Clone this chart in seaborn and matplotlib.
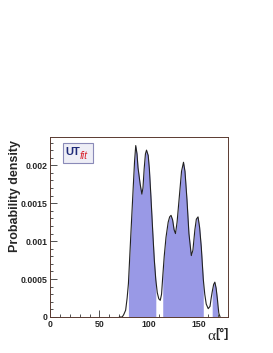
import matplotlib
matplotlib.use('Agg')
import matplotlib.pyplot as plt
import matplotlib.ticker as mticker
from matplotlib.patches import FancyBboxPatch
import numpy as np
import pandas as pd
import seaborn as sns

# alpha [deg] and probability density
alpha = [70, 73, 74.5, 76.5, 78, 79.3, 81.6, 84, 85.5, 86.7, 88, 89, 91.2, 92.9,
         94, 95.2, 96.5, 97.6, 99.3, 100.5, 102, 104, 105.5, 107, 108.5, 110,
         111.5, 112.8, 114, 115.5, 117.3, 119.5, 121, 122.4, 124, 125.5, 126.9,
         128.5, 131, 133, 135, 136.5, 138.5, 140.5, 142.9, 144.5, 146.5, 148,
         149.7, 151.3, 153, 155, 156.5, 158, 160, 161.8, 163, 164, 165.5, 166.7,
         168, 169.4, 170.7, 172]
density = [0, 0, 0.03, 0.09, 0.25, 0.44, 1.05, 1.67, 2.05, 2.26, 2.15, 1.97, 1.75, 1.62,
           1.70, 1.95, 2.15, 2.20, 2.13, 1.95, 1.60, 1.10, 0.75, 0.49, 0.32, 0.24,
           0.22, 0.30, 0.53, 0.80, 1.05, 1.25, 1.32, 1.34, 1.28, 1.15, 1.10,
           1.25, 1.62, 1.92, 2.04, 1.92, 1.55, 1.10, 0.81, 0.88, 1.15, 1.29,
           1.32, 1.18, 0.92, 0.50, 0.30, 0.17, 0.11, 0.14, 0.25, 0.33, 0.43, 0.46,
           0.38, 0.22, 0.05, 0]
density = [d * 1e-3 for d in density]

# shaded probability regions
regions = [(79.3, 107), (114, 155), (164, 169.4)]

xticks = [0, 50, 100, 150]
yticks = [0, 0.0005, 0.001, 0.0015, 0.002]
ytick_labels = ['0', '0.0005', '0.001', '0.0015', '0.002']

df = pd.DataFrame({'alpha': alpha, 'density': density})

sns.set_style('ticks')
plt.rcParams['font.family'] = ['Liberation Sans', 'DejaVu Sans']

fig = plt.figure(figsize=(2.73, 3.53), dpi=100)
ax = fig.add_axes([50 / 273, 36 / 353, 178 / 273, 180 / 353])

x = df.alpha.values
y = df.density.values
for lo, hi in regions:
    m = (x >= lo) & (x <= hi)
    ax.fill_between(x[m], 0, y[m], color='#9999e6', lw=0, zorder=1)
sns.lineplot(data=df, x='alpha', y='density', ax=ax, color='#222222', lw=0.8, zorder=2)

ax.set_xlim(0, 180)
ax.set_ylim(0, max(density) * 1.05)
ax.set_xticks(xticks)
ax.set_xticklabels([str(t) for t in xticks])
ax.set_yticks(yticks)
ax.set_yticklabels(ytick_labels)
ax.xaxis.set_minor_locator(mticker.MultipleLocator(10))
ax.yaxis.set_minor_locator(mticker.MultipleLocator(0.0001))
ax.tick_params(which='both', direction='in', labelsize=6.3, pad=2, color='#333333')
ax.tick_params(which='major', length=5, width=0.6)
ax.tick_params(which='minor', length=2.5, width=0.6)
for lab in ax.get_xticklabels() + ax.get_yticklabels():
    lab.set_fontweight('bold')
for sp in ax.spines.values():
    sp.set_color('#5a3a30')
    sp.set_linewidth(0.7)

ax.set_xlabel('')
ax.set_ylabel('Probability density', fontsize=9, fontweight='bold')
ax.yaxis.set_label_coords(-0.165, 0.675)

# x axis title
fig.text(215 / 273, 1 - 337 / 353, 'α', fontsize=11, family='Liberation Serif',
         ha='right', va='center')
fig.text(215 / 273, 1 - 334 / 353, '[°]', fontsize=9, fontweight='bold',
         ha='left', va='center')

# UTfit logo
box = FancyBboxPatch((63 / 273, 1 - 163 / 353), 30 / 273, 20 / 353,
                     boxstyle='square,pad=0', transform=fig.transFigure,
                     facecolor='#eeeef6', edgecolor='#8a8ab8', lw=0.8)
fig.patches.append(box)
fig.text(65 / 273, 1 - 152 / 353, 'UT', fontsize=8, fontweight='bold', color='#1e2a78',
         va='center', ha='left')
fig.text(79.5 / 273, 1 - 156 / 353, 'fit', fontsize=7.5, style='italic', color='#d9252e',
         va='center', ha='left')

fig.savefig('out.png', dpi=100)
